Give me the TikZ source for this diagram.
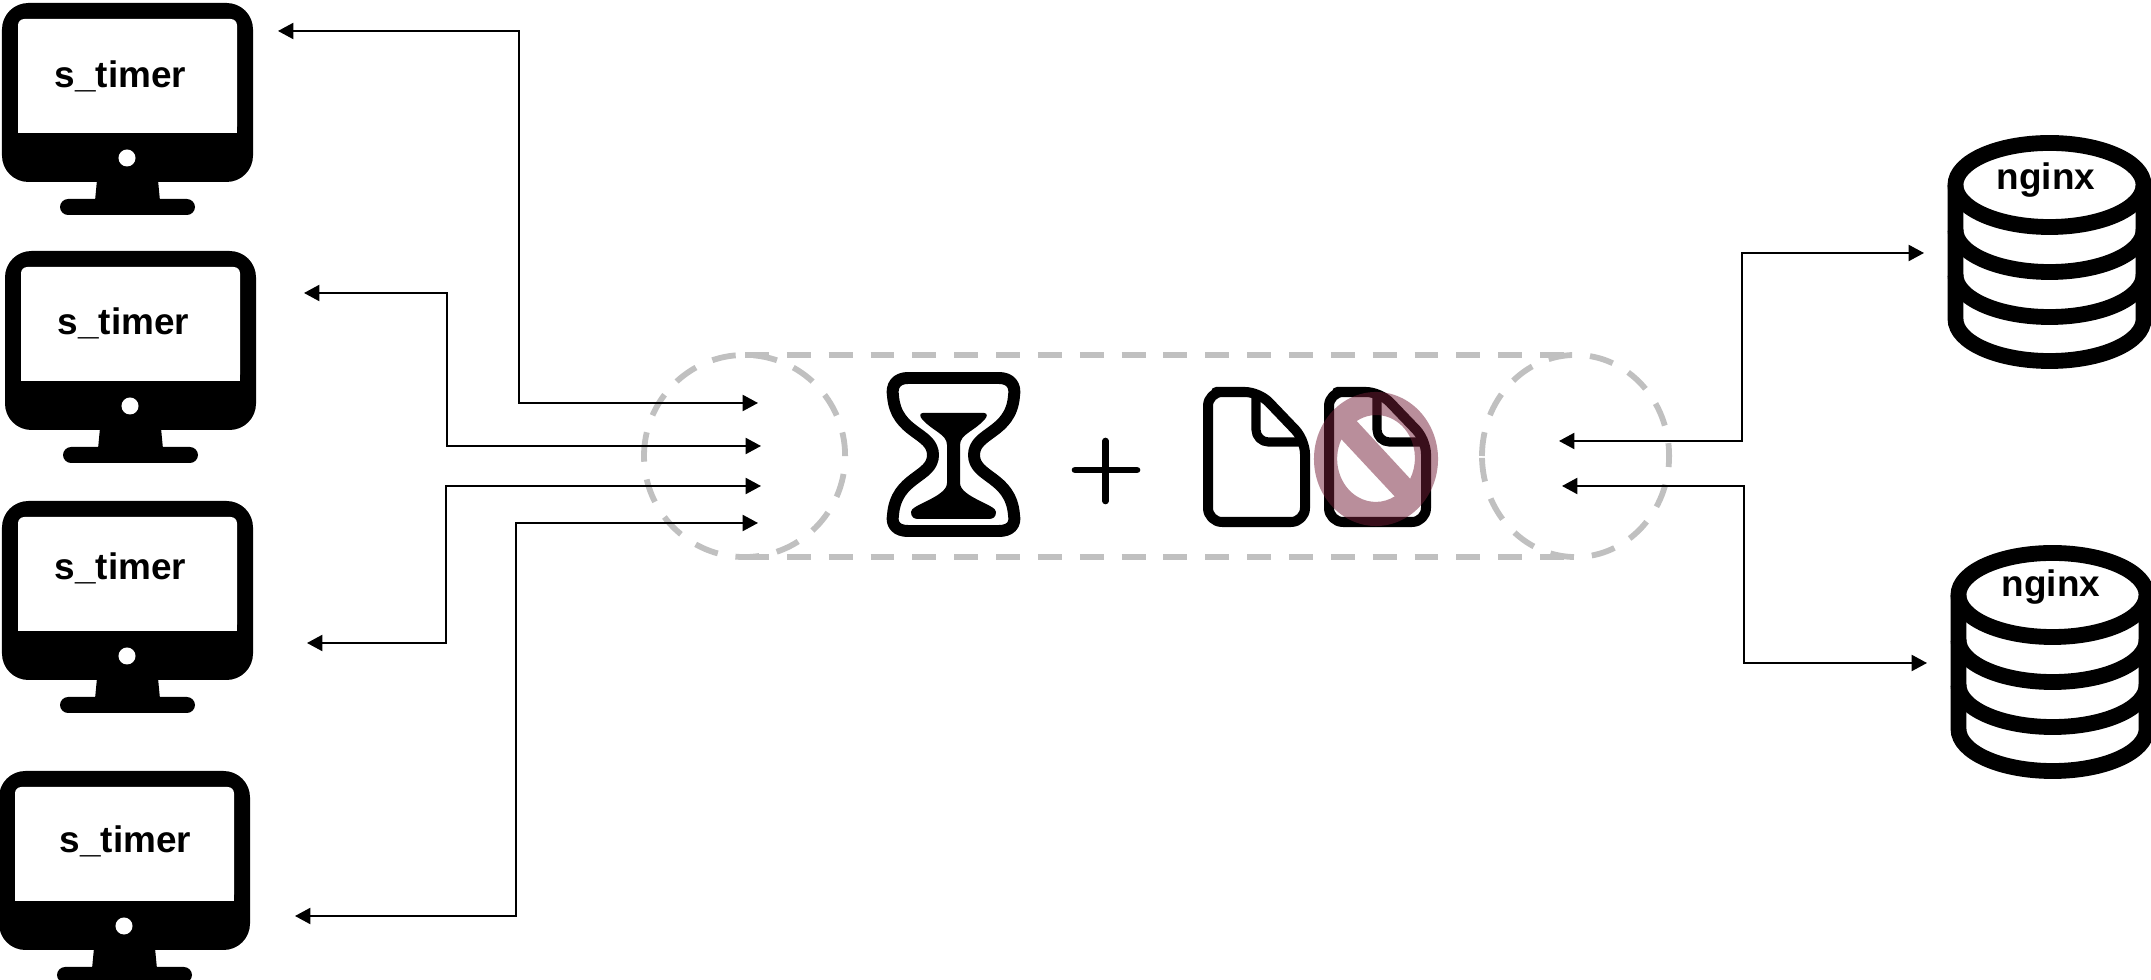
\documentclass[tikz,border=0pt]{standalone}
\usepackage{fontspec}
\setmainfont{Liberation Sans}
\usetikzlibrary{arrows.meta}
\definecolor{ringgray}{HTML}{C0C0C0}
\definecolor{banred}{HTML}{731E37}
\tikzset{
    link/.style={draw, line width=0.55pt, <->, >={Triangle[length=4.4pt,width=4.6pt]}},
    lbl/.style={anchor=base, inner sep=0pt, font=\fontsize{10.5}{12}\selectfont\bfseries},
    ring/.style={draw=ringgray, line width=1.65pt, dash pattern=on 6.8pt off 5.1pt},
    icon/.style={draw, line width=3pt, line join=round},
    monitor/.pic={
        \fill[rounded corners=7.5pt] (2,3) rectangle (253,182);
        \fill (97,180) -- (158,180) -- (160,201) -- (95,201) -- cycle;
        \fill[rounded corners=2.3pt] (60,199) rectangle (195,215);
        \fill[white, rounded corners=1.8pt] (18,133) -- (18,19) -- (237,19) -- (237,133) -- cycle;
        \fill[white] (18,120) rectangle (237,133);
        \fill[white] (127,158) circle (0.085cm);
    },
    database/.pic={
        \draw[line width=4.5pt] (2049.5,185) ellipse [x radius=0.94cm, y radius=0.42cm];
        \draw[line width=4.5pt] (1955.5,185) -- (1955.5,319) arc [start angle=180, end angle=360, x radius=0.94cm, y radius=0.42cm] -- (2143.5,185);
        \draw[line width=4.5pt] (1955.5,230) arc [start angle=180, end angle=360, x radius=0.94cm, y radius=0.42cm];
        \draw[line width=4.5pt] (1955.5,275) arc [start angle=180, end angle=360, x radius=0.94cm, y radius=0.42cm];
    },
    paper/.pic={
        \draw[icon, line width=2.85pt, rounded corners=4pt] (1230,392) -- (1208,392) -- (1208,522) -- (1305,522) -- (1305,440) -- (1259,392) -- cycle;
        \draw[icon, line width=2.6pt, rounded corners=3.5pt] (1256,392) -- (1256,442) -- (1306,442);
    },
}
\begin{document}
\begin{tikzpicture}[x=0.01cm, y=-0.01cm]
    \clip (0,0) rectangle (2151,980);

    % clients
    \pic at (0,0) {monitor};
    \pic at (3,248) {monitor};
    \pic at (0,498) {monitor};
    \pic at (-3,768) {monitor};
    \node (M1) [lbl] at (120.5,88) {s\_timer};
    \node (M2) [lbl] at (123.5,335) {s\_timer};
    \node (M3) [lbl] at (120.5,580) {s\_timer};
    \node (M4) [lbl] at (125.5,853) {s\_timer};

    % servers
    \pic at (0,0) {database};
    \pic at (3,410) {database};
    \node (N1) [lbl] at (2046,190) {nginx};
    \node (N2) [lbl] at (2051,597) {nginx};

    % dashed outline
    \draw[ring] (745,355) -- (1572,355);
    \draw[ring] (745,557) -- (1572,557);
    \draw[ring] (644,456) arc [start angle=180, end angle=-180, x radius=1.005cm, y radius=1.01cm];
    \draw[ring] (1482,456) arc [start angle=180, end angle=-180, x radius=0.935cm, y radius=1.01cm];

    % hourglass
    \draw[icon, line width=3.4pt] (908,378) -- (999,378) .. controls (1010,378) and (1016,385) .. (1014,396)
        .. controls (1011,434) and (974,432) .. (974,455) .. controls (974,478) and (1011,476) .. (1014,515)
        .. controls (1016,525) and (1010,531) .. (999,531) -- (908,531) .. controls (897,531) and (891,525) .. (893,515)
        .. controls (896,476) and (933,478) .. (933,455) .. controls (933,432) and (896,434) .. (893,396)
        .. controls (891,385) and (897,378) .. (908,378) -- cycle;
    \fill (923,413) -- (984,413) .. controls (988,413) and (987,417) .. (985,419) .. controls (975,431) and (960,434) .. (960,445)
        -- (960,483) .. controls (960,497) and (997,505) .. (996,512) .. controls (996,517) and (993,519) .. (989,519)
        -- (918,519) .. controls (914,519) and (911,517) .. (911,512) .. controls (910,505) and (947,497) .. (947,483)
        -- (947,445) .. controls (947,434) and (932,431) .. (922,419) .. controls (920,417) and (919,413) .. (923,413) -- cycle;

    % plus
    \draw[line width=1.9pt, line cap=round] (1075,470) -- (1137,470);
    \draw[line width=1.9pt, line cap=round] (1105.5,441) -- (1105.5,501);

    % files
    \pic at (0,0) {paper};
    \pic at (121,0) {paper};
    \fill[banred, fill opacity=0.5, even odd rule] (1376,459) ellipse [x radius=0.62cm, y radius=0.67cm]
        (1356.7,421) arc [start angle=120.5, end angle=-28.8, x radius=0.386cm, y radius=0.43cm] -- cycle
        (1341.4,439.3) arc [start angle=152.9, end angle=299.3, x radius=0.386cm, y radius=0.43cm] -- cycle;

    % free ends
    \coordinate (A1) at (278,31);
    \coordinate (K1) at (519,200);
    \coordinate (B1) at (758,403);
    \coordinate (A2) at (304,293);
    \coordinate (K2) at (447,350);
    \coordinate (B2) at (761,446);
    \coordinate (A3) at (307,643);
    \coordinate (K3) at (446,550);
    \coordinate (B3) at (761,486);
    \coordinate (A4) at (295,916);
    \coordinate (K4) at (516,700);
    \coordinate (B4) at (758,523);
    \coordinate (C1) at (1924,253);
    \coordinate (K5) at (1742,350);
    \coordinate (D1) at (1559,441);
    \coordinate (C2) at (1927,663);
    \coordinate (K6) at (1744,550);
    \coordinate (D2) at (1562,486);

    \draw[link] (A1) -| (K1) |- (B1);
    \draw[link] (A2) -| (K2) |- (B2);
    \draw[link] (A3) -| (K3) |- (B3);
    \draw[link] (A4) -| (K4) |- (B4);
    \draw[link] (C1) -| (K5) |- (D1);
    \draw[link] (C2) -| (K6) |- (D2);
\end{tikzpicture}
\end{document}
